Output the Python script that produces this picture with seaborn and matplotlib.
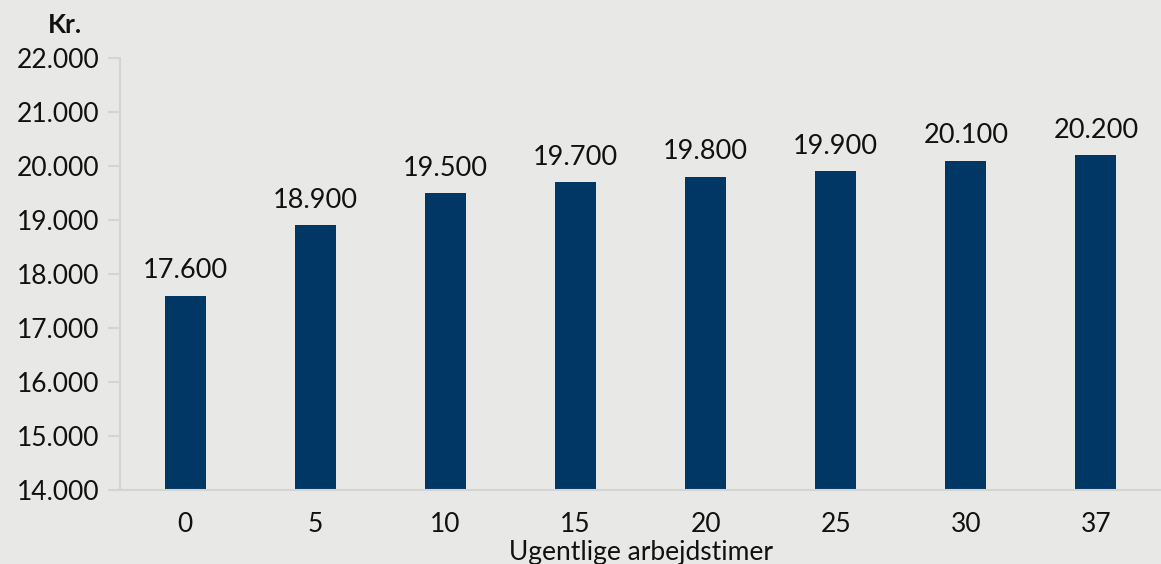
import matplotlib
matplotlib.use("Agg")
import matplotlib.pyplot as plt
import seaborn as sns
import pandas as pd

hours = ["0", "5", "10", "15", "20", "25", "30", "37"]
income = [17600, 18900, 19500, 19700, 19800, 19900, 20100, 20200]

BG = "#e8e8e6"
BAR = "#003764"
GRID = "#d4d4d2"
FS = 19

sns.set_theme(style="white")
plt.rcParams["font.family"] = ["Lato", "DejaVu Sans"]

df = pd.DataFrame({"hours": hours, "income": income})

fig = plt.figure(figsize=(11.61, 5.64), dpi=100, facecolor=BG)
ax = fig.add_axes([0.1034, 0.1312, 0.8966, 0.766])
ax.set_facecolor(BG)

sns.barplot(data=df, x="hours", y="income", color=BAR, width=0.315,
            saturation=1, linewidth=0, ax=ax)

ax.set_ylim(14000, 22000)
ax.set_yticks(range(14000, 22001, 1000))
ax.set_yticklabels([f"{v:,}".replace(",", ".") for v in range(14000, 22001, 1000)])
ax.set_xlim(-0.5, len(hours) - 0.5)

for i, v in enumerate(income):
    ax.text(i, v + 230, f"{v:,}".replace(",", "."), ha="center", va="bottom",
            fontsize=FS + 0.5, color="#111111")

for s in ["top", "right"]:
    ax.spines[s].set_visible(False)
for s in ["left", "bottom"]:
    ax.spines[s].set_color(GRID)
    ax.spines[s].set_linewidth(1.5)

ax.tick_params(axis="y", length=9, width=1.5, color=GRID, labelsize=FS,
               labelcolor="#111111", pad=6, left=True)
ax.tick_params(axis="x", length=0, labelsize=FS, labelcolor="#111111", pad=16)

ax.set_xlabel("Ugentlige arbejdstimer", fontsize=FS, color="#111111", labelpad=2)
ax.set_ylabel("")
fig.text(0.041, 0.955, "Kr.", fontsize=FS, fontweight="bold", color="#111111",
         ha="left", va="center")

fig.savefig("out.png", dpi=100, facecolor=BG)
